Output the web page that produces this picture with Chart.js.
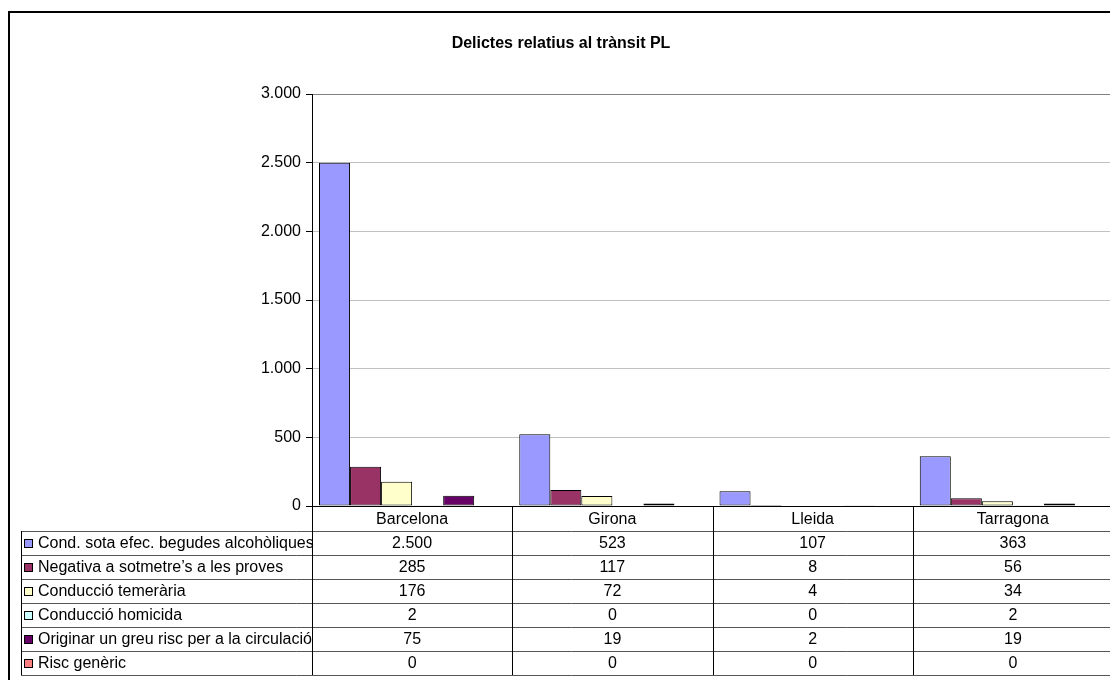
<!DOCTYPE html>
<html>
<head>
<meta charset="utf-8">
<title>Delictes relatius al trànsit PL</title>
<script src="https://cdn.jsdelivr.net/npm/chart.js@4.4.1/dist/chart.umd.min.js"></script>
<style>
    html, body { margin: 0; padding: 0; background: #fff; overflow: hidden; width: 1110px; height: 680px; }
    #frame { position: absolute; left: 8px; top: 11px; width: 1130px; height: 720px; border: 2px solid #000; }
    #chart { position: absolute; left: 0; top: 0; }
</style>
</head>
<body>
<div id="frame"></div>
<canvas id="chart" width="1122" height="700"></canvas>
<script>
// ── Data ─────────────────────────────────────────────────
const categories = ['Barcelona', 'Girona', 'Lleida', 'Tarragona'];

const seriesNames = [
    'Cond. sota efec. begudes alcohòliques',
    'Negativa a sotmetre\u2019s a les proves',
    'Conducció temerària',
    'Conducció homicida',
    'Originar un greu risc per a la circulació',
    'Risc genèric',
];

const alcoholValues   = [2500, 523, 107, 363];
const negativaValues  = [285, 117, 8, 56];
const temerariaValues = [176, 72, 4, 34];
const homicidaValues  = [2, 0, 0, 2];
const greuRiscValues  = [75, 19, 2, 19];
const genericValues   = [0, 0, 0, 0];

const seriesValues = [alcoholValues, negativaValues, temerariaValues, homicidaValues, greuRiscValues, genericValues];
const seriesColors = ['#9999FF', '#993366', '#FFFFCC', '#CCFFFF', '#660066', '#FF8080'];

const yTicks = [0, 500, 1000, 1500, 2000, 2500, 3000];

// ── Helpers ──────────────────────────────────────────────
const FONT = "'Liberation Sans', Arial, sans-serif";
function fmt(v) { return String(v).replace(/\B(?=(\d{3})+(?!\d))/g, '.'); }

// data table under the plot (Excel style)
const TABLE = { left: 21, headH: 25, rowH: 24, swatch: 9 };

const dataTablePlugin = {
    id: 'dataTable',
    afterDraw(chart) {
        const { ctx, chartArea: area, scales: { x } } = chart;
        const colW = (area.right - area.left) / categories.length;
        const top = area.bottom + TABLE.headH;
        const bottom = top + seriesNames.length * TABLE.rowH;
        ctx.save();

        // row lines
        ctx.strokeStyle = '#555';
        ctx.lineWidth = 1;
        for (let i = 0; i <= seriesNames.length; i++) {
            const y = Math.round(top + i * TABLE.rowH) + 0.5;
            ctx.beginPath(); ctx.moveTo(TABLE.left, y); ctx.lineTo(chart.width, y); ctx.stroke();
        }
        // column lines
        ctx.strokeStyle = '#000';
        ctx.beginPath(); ctx.moveTo(TABLE.left + 0.5, top); ctx.lineTo(TABLE.left + 0.5, bottom); ctx.stroke();
        for (let k = 0; k <= categories.length; k++) {
            const cx = Math.round(area.left + k * colW) + 0.5;
            ctx.beginPath(); ctx.moveTo(cx, area.bottom); ctx.lineTo(cx, bottom); ctx.stroke();
        }

        ctx.font = '16px ' + FONT;
        ctx.textBaseline = 'middle';
        ctx.fillStyle = '#000';
        seriesNames.forEach((name, i) => {
            const cy = top + i * TABLE.rowH + TABLE.rowH / 2;
            // legend key
            ctx.fillStyle = seriesColors[i];
            ctx.fillRect(TABLE.left + 3, Math.round(cy - TABLE.swatch / 2), TABLE.swatch, TABLE.swatch);
            ctx.strokeStyle = '#000';
            ctx.strokeRect(TABLE.left + 3.5, Math.round(cy - TABLE.swatch / 2) + 0.5, TABLE.swatch - 1, TABLE.swatch - 1);
            ctx.fillStyle = '#000';
            ctx.textAlign = 'left';
            ctx.fillText(name, TABLE.left + 17, cy + 1);
            // values
            ctx.textAlign = 'center';
            seriesValues[i].forEach((v, j) => ctx.fillText(fmt(v), x.getPixelForValue(j), cy + 1));
        });
        ctx.restore();
    },
};

// ── Chart ────────────────────────────────────────────────
Chart.defaults.font.family = FONT;
Chart.defaults.color = '#000';

new Chart(document.getElementById('chart'), {
    type: 'bar',
    data: {
        labels: categories,
        datasets: seriesNames.map((name, i) => ({
            label: name,
            data: seriesValues[i],
            backgroundColor: seriesColors[i],
            borderColor: '#000',
            borderWidth: 1,
            borderSkipped: false,
        })),
    },
    options: {
        responsive: false,
        animation: false,
        events: [],
        categoryPercentage: 0.93,
        barPercentage: 1,
        layout: { padding: { left: 9, right: 9, top: 0, bottom: 700 - 531 } },
        plugins: {
            legend: { display: false },
            tooltip: { enabled: false },
            title: {
                display: true,
                text: 'Delictes relatius al trànsit PL',
                color: '#000',
                font: { size: 16, weight: 'bold' },
                padding: { top: 34, bottom: 40.8 },
            },
        },
        scales: {
            x: {
                grid: { drawOnChartArea: false, drawTicks: false },
                border: { color: '#000', width: 1 },
                ticks: { font: { size: 16 }, color: '#000', padding: 4 },
                afterFit(scale) { scale.height = 25; },
            },
            y: {
                min: yTicks[0],
                max: yTicks[yTicks.length - 1],
                afterBuildTicks(scale) { scale.ticks = yTicks.map(v => ({ value: v })); },
                grid: {
                    color: c => (c.tick && c.tick.value === 3000 ? '#808080' : '#c0c0c0'),
                    tickColor: '#000',
                    tickLength: 6,
                },
                border: { color: '#000', width: 1 },
                ticks: { font: { size: 16 }, color: '#000', padding: 5, callback: v => fmt(v) },
                afterFit(scale) { scale.width = 303; },
            },
        },
    },
    plugins: [dataTablePlugin],
});
</script>
</body>
</html>
